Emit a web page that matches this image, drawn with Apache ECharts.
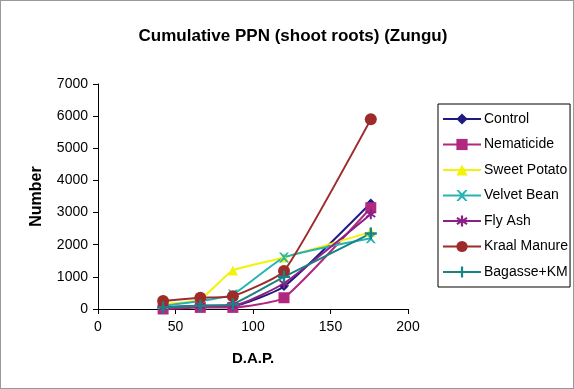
<!DOCTYPE html>
<html><head><meta charset="utf-8">
<script src="https://cdn.jsdelivr.net/npm/echarts@6/dist/echarts.min.js"></script>
<style>html,body{margin:0;padding:0;background:#fff}#c{width:574px;height:389px;box-sizing:border-box;border:1px solid #999}</style>
</head><body><div id="c"></div>
<script>
const dap = [42, 66, 87, 120, 176];
const control = [50, 100, 100, 700, 3300];
const nematicide = [0, 50, 50, 350, 3150];
const sweetPotato = [150, 300, 1200, 1600, 2400];
const velvetBean = [100, 250, 450, 1600, 2200];
const flyAsh = [50, 100, 100, 800, 2950];
const kraalManure = [250, 350, 400, 1180, 5900];
const bagasseKM = [50, 100, 150, 1000, 2350];
const names = ['Control','Nematicide','Sweet Potato','Velvet Bean','Fly Ash','Kraal Manure','Bagasse+KM'];
const values = [control, nematicide, sweetPotato, velvetBean, flyAsh, kraalManure, bagasseKM];
const colors = ['#1f1a80','#b0287f','#f2f20a','#27b3b3','#8a1f86','#9e2a2a','#178383'];
const xPath = 'path://M0,0L2,0L5,3L8,0L10,0L6,5L10,10L8,10L5,7L2,10L0,10L4,5Z';
const starPath = 'path://M4,0L6,0L6,3.5L9,1.5L10,3L7,5L10,7L9,8.5L6,6.5L6,10L4,10L4,6.5L1,8.5L0,7L3,5L0,3L1,1.5L4,3.5Z';
const plusPath = 'path://M4,0L6,0L6,4L10,4L10,6L6,6L6,10L4,10L4,6L0,6L0,4L4,4Z';
const symbols = ['diamond','rect','triangle',xPath,starPath,'circle',plusPath];
const sizes = [9,11,10,10,10,12,12];
const font = 'Liberation Sans, Arial';
const chart = echarts.init(document.getElementById('c'));
chart.setOption({
  animation:false,
  title:{text:'Cumulative PPN (shoot roots) (Zungu)',left:287,top:22,textAlign:'center',textStyle:{fontFamily:font,fontSize:17,fontWeight:'bold',color:'#000'}},
  grid:{left:97,right:165,top:83,bottom:79},
  xAxis:{type:'value',min:0,max:200,interval:50,name:'D.A.P.',nameLocation:'middle',nameGap:42,
    nameTextStyle:{fontFamily:font,fontSize:15,fontWeight:'bold',color:'#000'},
    axisLine:{lineStyle:{color:'#000'}},axisTick:{show:true,lineStyle:{color:'#000'}},
    axisLabel:{fontFamily:font,fontSize:14,color:'#000',margin:11},splitLine:{show:false}},
  yAxis:{type:'value',min:0,max:7000,interval:1000,name:'Number',nameLocation:'middle',nameGap:53,
    nameTextStyle:{fontFamily:font,fontSize:16,fontWeight:'bold',color:'#000'},
    axisLine:{show:true,lineStyle:{color:'#000'}},axisTick:{show:true,lineStyle:{color:'#000'}},
    axisLabel:{fontFamily:font,fontSize:14,color:'#000',formatter:v=>String(v),margin:10},splitLine:{show:false}},
  legend:{orient:'vertical',left:437,top:103,itemGap:11.5,itemWidth:38,itemHeight:14,
    padding:[8,2,8,4],borderColor:'#000',borderWidth:1,
    textStyle:{fontFamily:font,fontSize:14,color:'#000',padding:[0,0,0,-2]},data:names},
  series:names.map((n,i)=>({name:n,type:'line',smooth:0.15,data:dap.map((x,j)=>[x,values[i][j]]),
    symbol:symbols[i],symbolSize:sizes[i],itemStyle:{color:colors[i]},lineStyle:{color:colors[i],width:2}}))
});
</script></body></html>
